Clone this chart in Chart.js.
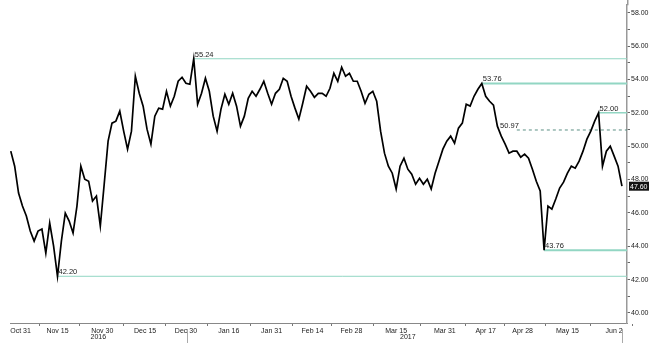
<!DOCTYPE html>
<html>
<head>
<meta charset="utf-8">
<script src="https://cdn.jsdelivr.net/npm/chart.js@4/dist/chart.umd.min.js"></script>
<style>
html, body { margin: 0; padding: 0; background: #fff; }
#wrap { width: 656px; height: 343px; }
</style>
</head>
<body>
<div id="wrap"><canvas id="oilChart" width="656" height="343"></canvas></div>
<script>
// daily closes, one per session
const prices = [
  49.70, 48.80, 47.19, 46.41, 45.81, 44.91, 44.31, 44.91, 45.03, 43.59,
  45.39, 44.01, 42.20, 44.31, 45.99, 45.51, 44.79, 46.41, 48.80, 48.02,
  47.90, 46.71, 47.01, 45.21, 47.72, 50.30, 51.38, 51.50, 52.10, 50.90,
  49.82, 50.90, 54.19, 53.17, 52.40, 51.02, 50.12, 51.80, 52.28, 52.22,
  53.29, 52.40, 52.99, 53.89, 54.13, 53.77, 53.71, 55.24, 52.51, 53.17,
  54.07, 53.29, 51.80, 50.90, 52.22, 53.11, 52.51, 53.17, 52.40, 51.20,
  51.80, 52.87, 53.29, 52.99, 53.41, 53.89, 53.17, 52.51, 53.17, 53.41,
  54.07, 53.89, 52.99, 52.28, 51.62, 52.57, 53.59, 53.29, 52.93, 53.17,
  53.17, 52.99, 53.47, 54.37, 53.89, 54.73, 54.19, 54.37, 53.89, 53.89,
  53.29, 52.57, 53.11, 53.29, 52.69, 50.90, 49.58, 48.80, 48.38, 47.43,
  48.80, 49.28, 48.62, 48.32, 47.72, 48.08, 47.72, 48.02, 47.43, 48.38,
  49.10, 49.82, 50.30, 50.60, 50.18, 51.08, 51.38, 52.51, 52.40, 52.99,
  53.41, 53.76, 52.99, 52.69, 52.46, 51.20, 50.60, 50.12, 49.58, 49.70,
  49.70, 49.34, 49.52, 49.28, 48.62, 47.90, 47.31, 43.76, 46.41, 46.23,
  46.83, 47.49, 47.84, 48.38, 48.80, 48.68, 49.10, 49.70, 50.42, 50.90,
  51.50, 52.00, 48.80, 49.70, 50.00, 49.40, 48.80, 47.60
];

// date labels and the session index they sit under
const tickLabels = ['Oct 31', 'Nov 15', 'Nov 30', 'Dec 15', 'Dec 30', 'Jan 16', 'Jan 31',
  'Feb 14', 'Feb 28', 'Mar 15', 'Mar 31', 'Apr 17', 'Apr 28', 'May 15', 'Jun 2'];
const tickIdx = [2.5, 12, 23.5, 34.5, 45, 56, 67, 77.5, 87.5, 99, 111.5, 122, 131.5, 143, 155];
const yearLabels = ['2016', '2017'];
const yearIdx = [22.5, 102];
const separatorIdx = [45.3, 157];

const yTickValues = [40, 41, 42, 43, 44, 45, 46, 47, 48, 49, 50, 51, 52, 53, 54, 55, 56, 57, 58];

// support / resistance levels and where they start
const levelValues = [55.24, 53.76, 52.00, 43.76, 42.20];
const levelStart = [47, 121, 151, 137, 12];
const levelWidth = [1, 2, 1.5, 2, 1];
const dashedLevel = 50.97;
const dashedStart = 130;
const dashedLabelIdx = 125.7;

const X_MIN = -0.2, X_MAX = 158.3;
const FONT = '"Liberation Sans Narrow", "Liberation Sans", Arial, sans-serif';

// minor ticks halfway between the date labels
const minorIdx = [];
for (let i = 0; i < tickIdx.length - 1; i++) minorIdx.push((tickIdx[i] + tickIdx[i + 1]) / 2);
minorIdx.push(tickIdx[tickIdx.length - 1] + (tickIdx[1] - tickIdx[0]) / 2);

const datasets = [{
  label: 'price',
  data: prices.map((v, i) => ({ x: i, y: v })),
  borderColor: '#000',
  borderWidth: 1.7,
  pointRadius: 0,
  tension: 0
}];
levelValues.forEach((v, k) => {
  datasets.push({
    label: 'lvl' + v,
    data: [{ x: levelStart[k], y: v }, { x: X_MAX, y: v }],
    borderColor: '#92d6c3',
    borderWidth: levelWidth[k],
    pointRadius: 0
  });
});
datasets.push({
  label: 'dashed',
  data: [{ x: dashedStart, y: dashedLevel }, { x: X_MAX, y: dashedLevel }],
  borderColor: '#5b8f84',
  borderWidth: 1,
  borderDash: [3, 3],
  pointRadius: 0
});

// level labels, year labels, separators and last-price box
const annotations = {
  id: 'annotations',
  afterDatasetsDraw(chart) {
    const c = chart.ctx;
    const xs = chart.scales.x, ys = chart.scales.y;
    c.save();

    // axis line runs to the top edge
    c.strokeStyle = '#999';
    c.lineWidth = 1.5;
    c.beginPath();
    c.moveTo(ys.left + 0.75, 0);
    c.lineTo(ys.left + 0.75, ys.top);
    c.stroke();

    c.font = '7.5px ' + FONT;
    c.fillStyle = '#222';
    c.textAlign = 'left';
    c.textBaseline = 'bottom';
    levelValues.forEach((v, k) => {
      c.fillText(v.toFixed(2), xs.getPixelForValue(levelStart[k]) + 1, ys.getPixelForValue(v) - 0.5);
    });
    c.fillText(dashedLevel.toFixed(2), xs.getPixelForValue(dashedLabelIdx), ys.getPixelForValue(dashedLevel) - 0.5);

    // years under the date row
    c.font = '7px ' + FONT;
    c.textAlign = 'center';
    c.textBaseline = 'top';
    yearLabels.forEach((t, k) => c.fillText(t, xs.getPixelForValue(yearIdx[k]), xs.top + 11));

    c.strokeStyle = '#aaa';
    c.lineWidth = 1;
    separatorIdx.forEach(ix => {
      const px = Math.round(xs.getPixelForValue(ix)) + 0.5;
      c.beginPath();
      c.moveTo(px, xs.top + 6);
      c.lineTo(px, chart.height);
      c.stroke();
    });

    // last value tag
    const last = prices[prices.length - 1];
    const py = ys.getPixelForValue(last);
    c.fillStyle = '#111';
    c.fillRect(ys.left + 2, py - 4.5, 20, 9);
    c.fillStyle = '#fff';
    c.textAlign = 'left';
    c.textBaseline = 'middle';
    c.font = '7px ' + FONT;
    c.fillText(last.toFixed(2), ys.left + 3, py + 0.5);
    c.restore();
  }
};

new Chart(document.getElementById('oilChart'), {
  type: 'line',
  data: { datasets },
  options: {
    responsive: false,
    animation: false,
    devicePixelRatio: 1,
    layout: { padding: { left: 10, top: 0, right: 0, bottom: 0 } },
    plugins: { legend: { display: false }, tooltip: { enabled: false } },
    scales: {
      x: {
        type: 'linear',
        min: X_MIN,
        max: X_MAX,
        afterBuildTicks: s => {
          s.ticks = tickIdx.concat(minorIdx).sort((a, b) => a - b).map(v => ({ value: v }));
        },
        ticks: {
          autoSkip: false,
          maxRotation: 0,
          padding: 1,
          color: '#222',
          font: { family: FONT, size: 7 },
          callback: v => {
            const k = tickIdx.indexOf(v);
            return k >= 0 ? tickLabels[k] : '';
          }
        },
        grid: {
          drawOnChartArea: false,
          tickLength: 3,
          tickColor: ctx => (ctx.tick && tickIdx.indexOf(ctx.tick.value) >= 0) ? 'rgba(0,0,0,0)' : '#777'
        },
        border: { color: '#888', width: 1 },
        afterFit: s => { s.height = 20; }
      },
      y: {
        position: 'right',
        min: 39.40,
        max: 58.45,
        afterBuildTicks: s => { s.ticks = yTickValues.map(v => ({ value: v })); },
        ticks: {
          autoSkip: false,
          padding: 1,
          color: '#222',
          font: { family: FONT, size: 7 },
          callback: v => (v % 2 === 0 ? v.toFixed(2) : '')
        },
        grid: { drawOnChartArea: false, tickLength: 3, tickColor: '#666' },
        border: { color: '#999', width: 1.5 },
        afterFit: s => { s.width = 29; }
      }
    }
  },
  plugins: [annotations]
});
</script>
</body>
</html>
